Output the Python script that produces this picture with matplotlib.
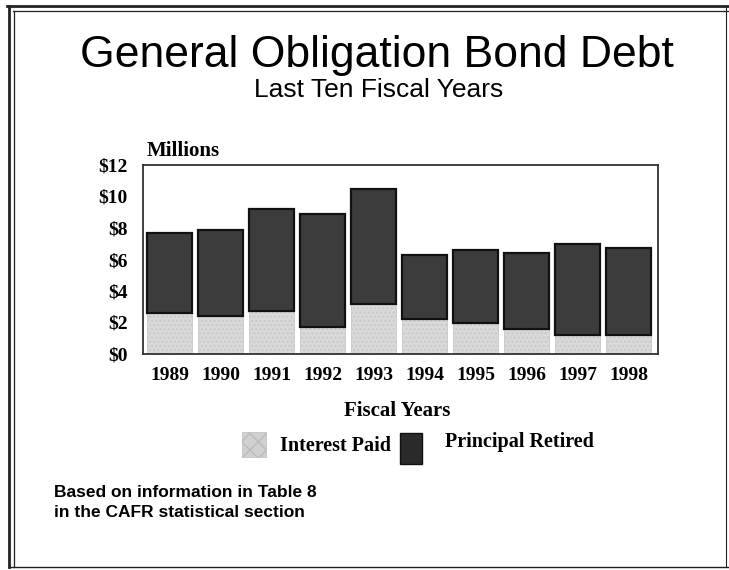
import numpy as np
import matplotlib.pyplot as plt
from matplotlib.lines import Line2D
from matplotlib.patches import Rectangle

years = ["1989", "1990", "1991", "1992", "1993", "1994", "1995", "1996", "1997", "1998"]
interest_paid = [2.6, 2.4, 2.7, 1.7, 3.2, 2.2, 2.0, 1.6, 1.2, 1.2]
debt_total = [7.7, 7.9, 9.2, 8.9, 10.5, 6.3, 6.6, 6.4, 7.0, 6.7]
principal_retired = [t - i for t, i in zip(debt_total, interest_paid)]
y_ticks = [0, 2, 4, 6, 8, 10, 12]

SERIF = "Liberation Serif"
SANS = "Liberation Sans"

plt.rcParams["hatch.color"] = "#c4c4c4"
fig = plt.figure(figsize=(7.29, 5.70), dpi=100)
W, H = 729, 570


def px(x, y):
    return x / W, 1 - y / H


# page border: double rule on top and left, single on the others
def fline(x0, y0, x1, y1, lw):
    (a, b), (c, d) = px(x0, y0), px(x1, y1)
    fig.add_artist(Line2D([a, c], [b, d], transform=fig.transFigure,
                          color="#222222", lw=lw))

fline(7, 6, 729, 6, 2.0)
fline(13, 11, 729, 11, 0.9)
fline(9, 6, 9, 567, 2.0)
fline(14, 11, 14, 567, 0.9)
fline(9, 567, 729, 567, 1.0)
fline(726, 6, 726, 567, 0.8)

ax = fig.add_axes([143 / W, 1 - 354 / H, (658 - 143) / W, (354 - 165) / H])
x = np.arange(len(years))
ax.bar(x, interest_paid, width=0.88, color="#d9d9d9", edgecolor="#c8c8c8",
       linewidth=0.6, hatch="....", zorder=2)
ax.bar(x, principal_retired, bottom=interest_paid, width=0.88, color="#3c3c3c",
       edgecolor="#111111", linewidth=1.6, zorder=3)

ax.set_xlim(-0.52, 9.57)
ax.set_ylim(0, 12)
ax.set_yticks(y_ticks)
ax.set_yticklabels([f"${v}" for v in y_ticks], family=SERIF, fontweight="bold",
                   fontsize=14)
ax.set_xticks(x)
ax.set_xticklabels(years, family=SERIF, fontweight="bold", fontsize=14)
ax.tick_params(length=0)
ax.tick_params(axis="x", pad=9)
ax.tick_params(axis="y", pad=11)
for side in ax.spines.values():
    side.set_color("#333333")
    side.set_linewidth(1.3)

fig.text(*px(377, 67), "General Obligation Bond Debt", family=SANS,
         fontsize=32, ha="center", va="baseline")
fig.text(*px(379, 97), "Last Ten Fiscal Years", family=SANS,
         fontsize=19, ha="center", va="baseline")
fig.text(*px(147, 151), "Millions", family=SERIF, fontweight="bold",
         fontsize=15, ha="left", va="center")
fig.text(*px(397, 411), "Fiscal Years", family=SERIF, fontweight="bold",
         fontsize=15, ha="center", va="center")

# legend keys
fig.add_artist(Rectangle(px(242, 457), 24 / W, 25 / H,
                         transform=fig.transFigure, facecolor="#d0d0d0",
                         edgecolor="#bbbbbb", hatch="xx", lw=0.5))
fig.text(*px(280, 446), "Interest Paid", family=SERIF, fontweight="bold",
         fontsize=14.5, ha="left", va="center")
fig.add_artist(Rectangle(px(400, 464), 22 / W, 31 / H,
                         transform=fig.transFigure, facecolor="#2a2a2a",
                         edgecolor="#111111", lw=1))
fig.text(*px(445, 442), "Principal Retired", family=SERIF,
         fontweight="bold", fontsize=14.5, ha="left", va="center")

fig.text(*px(54, 497), "Based on information in Table 8", family=SANS,
         fontweight="bold", fontsize=12.5, ha="left", va="baseline")
fig.text(*px(54, 517), "in the CAFR statistical section", family=SANS,
         fontweight="bold", fontsize=12.5, ha="left", va="baseline")

fig.savefig("out.png", dpi=100)
